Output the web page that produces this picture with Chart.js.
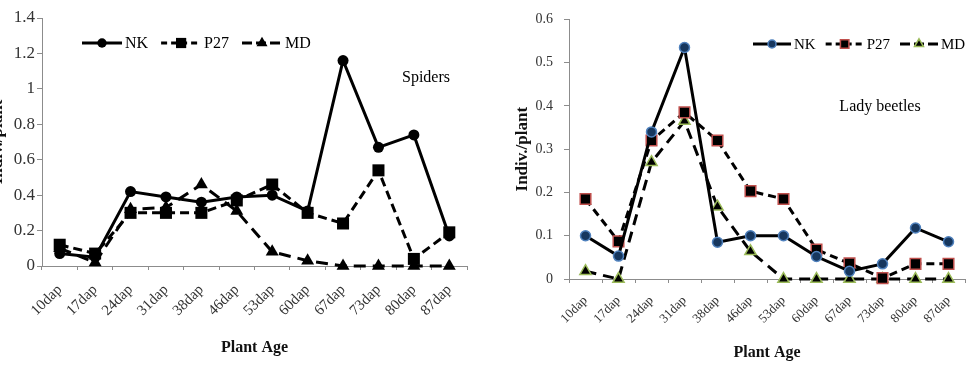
<!DOCTYPE html>
<html>
<head>
<meta charset="utf-8">
<script src="https://cdn.jsdelivr.net/npm/chart.js@4.4.1/dist/chart.umd.min.js"></script>
<style>
html, body { margin: 0; padding: 0; background: #fff; overflow: hidden; width: 974px; height: 366px; }
#wrapL { position: absolute; left: -20px; top: 0; width: 500px; height: 366px; }
#wrapR { position: absolute; left: 490px; top: 0; width: 484px; height: 366px; }
</style>
</head>
<body>
<div id="wrapL"><canvas id="spiders" width="500" height="366"></canvas></div>
<div id="wrapR"><canvas id="beetles" width="484" height="366"></canvas></div>
<script>
// categories
const ages = ['10dap', '17dap', '24dap', '31dap', '38dap', '46dap', '53dap', '60dap', '67dap', '73dap', '80dap', '87dap'];

// spiders (indiv./plant)
const spidersNK  = [0.07, 0.05, 0.42, 0.39, 0.36, 0.39, 0.40, 0.31, 1.16, 0.67, 0.74, 0.17];
const spidersP27 = [0.12, 0.07, 0.30, 0.30, 0.30, 0.37, 0.46, 0.30, 0.24, 0.54, 0.04, 0.19];
const spidersMD  = [0.10, 0.02, 0.32, 0.33, 0.46, 0.31, 0.08, 0.03, 0, 0, 0, 0];

// lady beetles (indiv./plant)
const beetlesNK  = [0.10, 0.053, 0.34, 0.535, 0.085, 0.10, 0.10, 0.052, 0.018, 0.035, 0.118, 0.086];
const beetlesP27 = [0.185, 0.087, 0.32, 0.385, 0.32, 0.203, 0.185, 0.068, 0.036, 0.002, 0.035, 0.035];
const beetlesMD  = [0.018, 0, 0.27, 0.365, 0.167, 0.064, 0, 0, 0, 0, 0, 0];

const spidersTicks = [0, 0.2, 0.4, 0.6, 0.8, 1, 1.2, 1.4];
const beetlesTicks = [0, 0.1, 0.2, 0.3, 0.4, 0.5, 0.6];

const SERIF = '"Liberation Serif", "Times New Roman", serif';

function drawMarker(ctx, shape, x, y, r, fill, stroke, bw) {
    ctx.beginPath();
    if (shape === 'circle') {
        ctx.arc(x, y, r, 0, Math.PI * 2);
    } else if (shape === 'rect') {
        const s = r * Math.SQRT1_2;
        ctx.rect(x - s, y - s, 2 * s, 2 * s);
    } else {
        ctx.moveTo(x, y - r);
        ctx.lineTo(x + r * 0.866, y + r * 0.5);
        ctx.lineTo(x - r * 0.866, y + r * 0.5);
        ctx.closePath();
    }
    ctx.fillStyle = fill;
    ctx.fill();
    if (bw > 0) {
        ctx.lineWidth = bw;
        ctx.strokeStyle = stroke;
        ctx.stroke();
    }
}

// legend drawn inside the plot area: line sample, marker, label
const insideLegend = {
    id: 'insideLegend',
    afterDraw(chart, args, opts) {
        const ctx = chart.ctx;
        ctx.save();
        ctx.font = opts.font;
        ctx.textBaseline = 'middle';
        let x = opts.x;
        const y = opts.y;
        chart.data.datasets.forEach(ds => {
            ctx.strokeStyle = '#000';
            ctx.lineWidth = ds.borderWidth;
            ctx.setLineDash(ds.legendDash || []);
            ctx.beginPath();
            ctx.moveTo(x, y);
            ctx.lineTo(x + opts.lineLen, y);
            ctx.stroke();
            ctx.setLineDash([]);
            drawMarker(ctx, ds.pointStyle, x + opts.lineLen / 2, y, ds.pointRadius * opts.markerScale,
                ds.pointBackgroundColor, ds.pointBorderColor, ds.pointBorderWidth);
            ctx.fillStyle = '#000';
            ctx.fillText(ds.label, x + opts.lineLen + 3, y + 1);
            x += opts.lineLen + 3 + ctx.measureText(ds.label).width + opts.gap;
        });
        ctx.restore();
    }
};

const noteText = {
    id: 'noteText',
    afterDraw(chart, args, opts) {
        const ctx = chart.ctx;
        ctx.save();
        ctx.font = opts.font;
        ctx.fillStyle = '#000';
        ctx.textAlign = 'center';
        ctx.textBaseline = 'middle';
        ctx.fillText(opts.text, opts.x, opts.y);
        ctx.restore();
    }
};

function series(label, values, st) {
    return {
        label: label,
        data: values,
        borderColor: '#000',
        borderWidth: st.lw,
        borderDash: st.dash,
        legendDash: st.legendDash,
        pointStyle: st.shape,
        pointRadius: st.r,
        pointHoverRadius: st.r,
        pointBackgroundColor: st.fill,
        pointBorderColor: st.stroke,
        pointBorderWidth: st.pbw,
        tension: 0,
        fill: false,
        clip: false
    };
}

function scales(cfg) {
    return {
        x: {
            type: 'category',
            offset: true,
            grid: { display: true, drawOnChartArea: false, offset: true, tickLength: 4, color: '#8c8c8c' },
            border: { color: '#8c8c8c', width: 1 },
            ticks: {
                font: { family: SERIF, size: cfg.xFont },
                color: '#333',
                minRotation: 45, maxRotation: 45,
                autoSkip: false,
                padding: cfg.xPad
            },
            title: {
                display: true, text: 'Plant Age', color: '#111',
                font: { family: SERIF, size: 16, weight: 'bold' },
                padding: { top: 0, bottom: cfg.titlePad }
            },
            afterFit: s => { s.height = cfg.xHeight; }
        },
        y: {
            min: 0,
            max: cfg.ticks[cfg.ticks.length - 1],
            afterBuildTicks: s => { s.ticks = cfg.ticks.map(v => ({ value: v })); },
            grid: { display: true, drawOnChartArea: false, tickLength: 5, color: '#8c8c8c' },
            border: { color: '#8c8c8c', width: 1 },
            ticks: {
                font: { family: SERIF, size: cfg.yFont },
                color: '#333',
                padding: cfg.yPad,
                callback: v => String(Math.round(v * 10) / 10)
            },
            title: {
                display: true, text: 'Indiv./plant', color: '#111',
                font: { family: SERIF, size: 17, weight: 'bold' },
                padding: { top: 4, bottom: 0 }
            },
            afterFit: s => { s.width = cfg.yWidth; }
        }
    };
}

document.addEventListener('DOMContentLoaded', function() {
    // Spiders
    new Chart(document.getElementById('spiders'), {
        type: 'line',
        data: {
            labels: ages,
            datasets: [
                series('NK', spidersNK, { lw: 3, dash: [], legendDash: [], shape: 'circle', r: 5.5, fill: '#000', stroke: '#000', pbw: 0 }),
                series('P27', spidersP27, { lw: 3, dash: [9, 5], legendDash: [6, 4], shape: 'rect', r: 8.5, fill: '#000', stroke: '#000', pbw: 0 }),
                series('MD', spidersMD, { lw: 3, dash: [12, 7], legendDash: [10, 4], shape: 'triangle', r: 7.5, fill: '#000', stroke: '#000', pbw: 0 })
            ]
        },
        options: {
            responsive: false,
            animation: false,
            layout: { padding: { left: 3, right: 13, top: 18, bottom: 5 } },
            scales: scales({ ticks: spidersTicks, xFont: 15, yFont: 17, xPad: 11, yPad: 2, xHeight: 95, yWidth: 59, titlePad: 4 }),
            plugins: {
                legend: { display: false },
                tooltip: { enabled: false },
                insideLegend: { x: 102, y: 43, lineLen: 40, gap: 13, markerScale: 0.85, font: '16px ' + SERIF },
                noteText: { text: 'Spiders', x: 446, y: 78, font: '16px ' + SERIF }
            }
        },
        plugins: [insideLegend, noteText]
    });

    // Lady beetles
    new Chart(document.getElementById('beetles'), {
        type: 'line',
        data: {
            labels: ages,
            datasets: [
                series('NK', beetlesNK, { lw: 3, dash: [], legendDash: [], shape: 'circle', r: 5, fill: '#17375e', stroke: '#4f81bd', pbw: 1.5 }),
                series('P27', beetlesP27, { lw: 3, dash: [8, 5], legendDash: [6, 4], shape: 'rect', r: 7.5, fill: '#000', stroke: '#c0504d', pbw: 1.5 }),
                series('MD', beetlesMD, { lw: 3, dash: [11, 7], legendDash: [10, 4], shape: 'triangle', r: 6.5, fill: '#000', stroke: '#9bbb59', pbw: 1.5 })
            ]
        },
        options: {
            responsive: false,
            animation: false,
            layout: { padding: { left: 18, right: 2, top: 14, bottom: 3 } },
            scales: scales({ ticks: beetlesTicks, xFont: 13, yFont: 14, xPad: 10, yPad: 11, xHeight: 84, yWidth: 61, titlePad: 1 }),
            plugins: {
                legend: { display: false },
                tooltip: { enabled: false },
                insideLegend: { x: 263, y: 44, lineLen: 38, gap: 10, markerScale: 0.8, font: '15px ' + SERIF },
                noteText: { text: 'Lady beetles', x: 390, y: 107, font: '16px ' + SERIF }
            }
        },
        plugins: [insideLegend, noteText]
    });
});
</script>
</body>
</html>
